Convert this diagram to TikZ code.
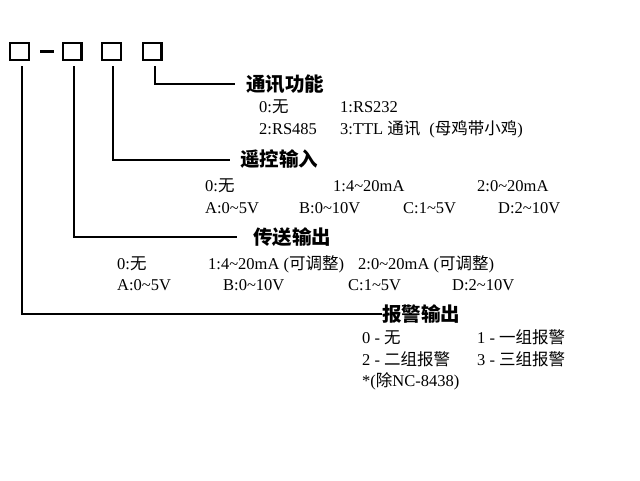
\documentclass[tikz,border=0pt]{standalone}
\usepackage{fontspec}
\setmainfont{Liberation Serif}
\newfontfamily\cjk{Noto Sans CJK SC}

\tikzset{
  slot/.style={draw, line width=2.4pt, minimum width=18.6pt, minimum height=16.6pt, inner sep=0pt},
  lead/.style={line width=2pt},
  title/.style={anchor=west, inner sep=0pt, font=\cjk\bfseries\fontsize{19.5}{22}\selectfont},
  opt/.style={anchor=base west, inner sep=0pt, font=\fontsize{16.5}{18}\selectfont}
}

\begin{document}
\begin{tikzpicture}[x=1pt, y=-1pt]
\useasboundingbox[fill=white] (0,0) rectangle (640,480);

% model code boxes
\node[slot] (b1) at (19.5,51.5) {};
\node[slot] (b2) at (72,51.5) {};
\node[slot] (b3) at (111.5,51.5) {};
\node[slot] (b4) at (152,51.5) {};
\draw[line width=2.4pt] ([xshift=10pt]b1.east) -- ([xshift=-8pt]b2.west);

% headings
\node[title] (h4) at (246,84) {通讯功能};
\node[title] (h3) at (240,159.5) {遥控输入};
\node[title] (h2) at (253,237) {传送输出};
\node[title] (h1) at (382,314) {报警输出};

\draw[lead] ([xshift=3pt,yshift=-5pt]b4.south) |- ([xshift=-11pt]h4.west);
\draw[lead] ([xshift=1pt,yshift=-5pt]b3.south) |- ([xshift=-10pt]h3.west);
\draw[lead] ([xshift=2pt,yshift=-5pt]b2.south) |- ([xshift=-16pt]h2.west);
\draw[lead] ([xshift=2.5pt,yshift=-5pt]b1.south) |- (h1.west);

% communication
\node[opt] (c0) at (259,112) {0:{\cjk 无}};
\node[opt] (c1) at (340,112) {1:RS232};
\node[opt] (c2) at (259,134.5) {2:RS485};
\node[opt] (c3) at (340,134.5) {3:TTL {\cjk 通讯}\hspace{0.55em}({\cjk 母鸡带小鸡})};

% remote input
\node[opt] (r0) at (205,191.5) {0:{\cjk 无}};
\node[opt] (r1) at (333,191.5) {1:4\textasciitilde20mA};
\node[opt] (r2) at (477,191.5) {2:0\textasciitilde20mA};
\node[opt] (rA) at (205,213.5) {A:0\textasciitilde5V};
\node[opt] (rB) at (299,213.5) {B:0\textasciitilde10V};
\node[opt] (rC) at (403,213.5) {C:1\textasciitilde5V};
\node[opt] (rD) at (498,213.5) {D:2\textasciitilde10V};

% transmitter output
\node[opt] (t0) at (117,269.5) {0:{\cjk 无}};
\node[opt] (t1) at (208,269.5) {1:4\textasciitilde20mA ({\cjk 可调整})};
\node[opt] (t2) at (358,269.5) {2:0\textasciitilde20mA ({\cjk 可调整})};
\node[opt] (tA) at (117,290.5) {A:0\textasciitilde5V};
\node[opt] (tB) at (223,290.5) {B:0\textasciitilde10V};
\node[opt] (tC) at (348,290.5) {C:1\textasciitilde5V};
\node[opt] (tD) at (452,290.5) {D:2\textasciitilde10V};

% alarm output
\node[opt] (a0) at (362,343.5) {0 - {\cjk 无}};
\node[opt] (a1) at (477,343.5) {1 - {\cjk 一组报警}};
\node[opt] (a2) at (362,365.5) {2 - {\cjk 二组报警}};
\node[opt] (a3) at (477,365.5) {3 - {\cjk 三组报警}};
\node[opt] (an) at (362,386.5) {*({\cjk 除}NC-8438)};
\end{tikzpicture}
\end{document}
